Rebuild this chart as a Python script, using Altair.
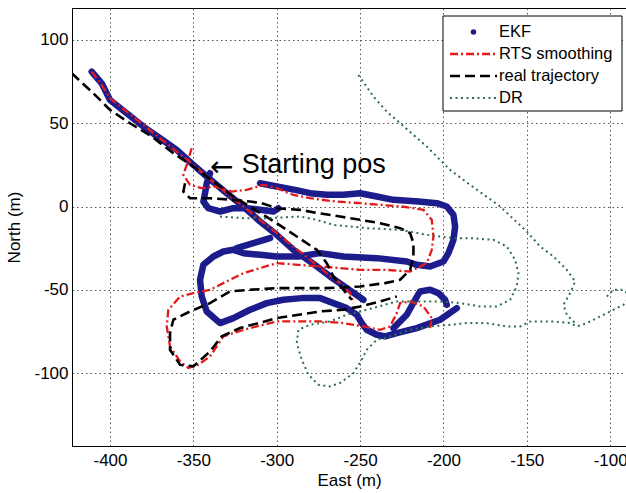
import altair as alt
import pandas as pd

FONT = "Liberation Sans"

# ---------------- data (East, North) in metres ----------------
EKF_DIAGONAL = [(-411, 81), (-405, 74), (-400, 64), (-390, 56), (-380, 48), (-370, 41), (-360, 34),
                (-350, 25), (-342, 18), (-330, 8), (-320, 0), (-310, -9), (-300, -17), (-290, -26),
                (-280, -33), (-268, -42), (-258, -49), (-248, -56)]
EKF_START = [(-340, 20), (-342, 14), (-343, 8), (-344, 3), (-341, -1), (-334, -3), (-326, -1),
             (-318, -1), (-310, -2), (-302, -3), (-299, -1)]
EKF_LANES = [(-310, 14), (-300, 12), (-289, 10), (-280, 8), (-270, 7), (-260, 7), (-250, 8), (-240, 6),
             (-230, 4), (-215, 3), (-204, 2), (-198, 0), (-194, -5), (-193, -12), (-194, -20),
             (-197, -28), (-200, -33), (-208, -36), (-216, -35), (-222, -33), (-240, -31), (-260, -30),
             (-274, -28), (-287, -30), (-300, -30), (-310, -29), (-320, -28), (-326, -26), (-332, -27),
             (-338, -30), (-344, -35), (-346, -44), (-345, -54), (-342, -63), (-334, -70), (-326, -67),
             (-316, -62), (-306, -58), (-296, -56), (-285, -55), (-274, -55), (-266, -58), (-258, -61),
             (-252, -65), (-249, -70), (-246, -74), (-240, -77), (-235, -78), (-228, -76), (-216, -73),
             (-202, -68), (-192, -61)]
EKF_HOOK = [(-230, -73), (-222, -65), (-217, -56), (-214, -51), (-208, -50), (-203, -52), (-199, -56),
            (-198, -59)]
EKF_STUB = [(-324, -25), (-314, -22), (-304, -19)]

RTS_DIAGONAL = [(-411, 81), (-405, 73), (-400, 65), (-390, 57), (-380, 49), (-370, 41), (-360, 33),
                (-350, 25), (-342, 18), (-330, 8), (-320, 0), (-310, -8), (-300, -16), (-290, -24),
                (-280, -32), (-270, -40), (-262, -46), (-256, -52), (-254, -58)]
RTS_LANES = [(-351, 35), (-354, 25), (-356, 19), (-352, 13), (-345, 11), (-337, 12), (-327, 9),
             (-318, 10), (-308, 13), (-300, 11), (-290, 7), (-280, 5), (-265, 3), (-250, 2), (-238, 1),
             (-225, 0), (-212, -2), (-207, -8), (-206, -18), (-207, -26), (-210, -34), (-220, -39),
             (-235, -38), (-250, -38), (-262, -37), (-274, -36), (-287, -35), (-300, -34), (-310, -37),
             (-320, -40), (-330, -45), (-340, -50), (-350, -52), (-358, -54), (-365, -62), (-366, -72),
             (-364, -84), (-358, -93), (-353, -97), (-347, -95), (-340, -90), (-332, -78), (-320, -74),
             (-300, -69), (-287, -69), (-274, -69), (-260, -70), (-248, -72), (-238, -74), (-232, -72),
             (-228, -64), (-226, -58), (-220, -57), (-212, -60), (-207, -67), (-208, -73)]

REAL_DIAGONAL = [(-423, 80), (-410, 68), (-400, 58), (-388, 50), (-375, 42), (-362, 32), (-350, 24),
                 (-338, 15), (-326, 6), (-313, -2), (-300, -10), (-288, -18), (-276, -26), (-270, -34),
                 (-266, -42), (-260, -50), (-255, -56)]
REAL_LANES = [(-355, 14), (-356, 9), (-352, 5), (-340, 5), (-326, 4), (-316, 3), (-309, 2), (-300, -1),
              (-286, -2), (-275, -4), (-262, -6), (-250, -8), (-238, -10), (-226, -13), (-220, -16),
              (-218, -22), (-218, -30), (-220, -38), (-226, -44), (-235, -46), (-250, -48), (-270, -49),
              (-286, -49), (-300, -49), (-316, -50), (-328, -51), (-340, -58), (-352, -63), (-362, -68),
              (-364, -76), (-364, -86), (-358, -95), (-350, -96), (-340, -87), (-333, -78), (-322, -73),
              (-300, -67), (-274, -63), (-260, -62), (-250, -60), (-238, -57), (-228, -54)]

DR_MAIN = [(-334, -6), (-320, -7), (-306, -7), (-286, -6), (-276, -8), (-266, -11), (-246, -13),
           (-226, -14), (-210, -17), (-194, -19), (-184, -19), (-170, -20), (-162, -24), (-157, -32),
           (-155, -40), (-156, -48), (-160, -56), (-168, -60), (-178, -60), (-190, -58), (-202, -57),
           (-214, -57), (-228, -57), (-246, -62), (-258, -65), (-268, -69), (-280, -71), (-287, -74),
           (-288, -82), (-285, -92), (-281, -101), (-275, -107), (-268, -108), (-262, -106),
           (-254, -100), (-249, -92), (-246, -86), (-240, -80), (-232, -78), (-220, -74), (-208, -72),
           (-196, -71), (-186, -70), (-174, -70), (-162, -72), (-154, -72), (-148, -69), (-134, -69),
           (-124, -70), (-120, -72), (-114, -70), (-106, -66), (-100, -63), (-92, -59), (-88, -54),
           (-92, -50), (-98, -50), (-102, -54)]
DR_DIAGONAL = [(-251, 79), (-242, 66), (-234, 57), (-226, 50), (-218, 43), (-210, 36), (-196, 22),
               (-184, 13), (-166, 0), (-150, -15), (-142, -24), (-134, -30), (-126, -38), (-121, -45),
               (-124, -52), (-128, -59), (-126, -65), (-120, -71)]

X_TICKS = [-400, -350, -300, -250, -200, -150, -100]
Y_TICKS = [-100, -50, 0, 50, 100]
X_DOMAIN = [-422.8, -90.5]
Y_DOMAIN = [-143.8, 119.2]

LEGEND_LABELS = ["EKF", "RTS smoothing", "real trajectory", "DR"]
ARROW_TEXT = "\u2190"
ARROW_POS = (-340, 18.5)
ANNOT_TEXT = "Starting pos"
ANNOT_POS = (-321, 20)

NAVY = "#1c1c8c"
RED = "#e31a1c"
BLACK = "#000000"
GREEN = "#2e6e50"


def frame(name, segments):
    rows = []
    for s, pts in enumerate(segments):
        for i, (e, n) in enumerate(pts):
            rows.append({"series": name, "seg": f"{name}-{s}", "order": i, "east": e, "north": n})
    return pd.DataFrame(rows)


ekf = frame("EKF", [EKF_DIAGONAL, EKF_START, EKF_LANES, EKF_HOOK, EKF_STUB])
rts = frame("RTS smoothing", [RTS_DIAGONAL, RTS_LANES])
real = frame("real trajectory", [REAL_DIAGONAL, REAL_LANES])
dr = frame("DR", [DR_MAIN, DR_DIAGONAL])

xs = alt.Scale(domain=X_DOMAIN, nice=False, zero=False)
ys = alt.Scale(domain=Y_DOMAIN, nice=False, zero=False)
x_enc = alt.X("east:Q", scale=xs,
              axis=alt.Axis(values=X_TICKS, title="East (m)", labelExpr="'' + datum.value",
                            labelPadding=6, titlePadding=4))
y_enc = alt.Y("north:Q", scale=ys,
              axis=alt.Axis(values=Y_TICKS, title="North (m)", labelExpr="'' + datum.value",
                            labelPadding=4, titlePadding=10))


def traj(df, **style):
    return alt.Chart(df).mark_line(clip=True, **style).encode(
        x=x_enc, y=y_enc, detail="seg:N", order="order:Q")


l_ekf = traj(ekf, color=NAVY, strokeWidth=6.5, strokeCap="round", strokeJoin="round")
l_rts = traj(rts, color=RED, strokeWidth=2.3, strokeDash=[8, 3, 2, 3])
l_real = traj(real, color=BLACK, strokeWidth=2.6, strokeDash=[10, 5])
l_dr = traj(dr, color=GREEN, strokeWidth=2, strokeDash=[2, 3.5])

arrow = alt.Chart(pd.DataFrame({"east": [ARROW_POS[0]], "north": [ARROW_POS[1]],
                                "label": [ARROW_TEXT]})).mark_text(
    align="left", baseline="alphabetic", fontSize=28, font="DejaVu Sans", color="black"
).encode(x=x_enc, y=y_enc, text="label:N")
annot = alt.Chart(pd.DataFrame({"east": [ANNOT_POS[0]], "north": [ANNOT_POS[1]],
                                "label": [ANNOT_TEXT]})).mark_text(
    align="left", baseline="alphabetic", fontSize=27, font=FONT, color="black"
).encode(x=x_enc, y=y_enc, text="label:N")

# ---------------- legend (drawn in plot-area pixels) ----------------
one = pd.DataFrame({"k": [0]})
LEG_ROWS = [24, 46, 68, 90]
SYM_X0, SYM_X1, LAB_X = 378, 425, 427
box = alt.Chart(one).mark_rect(fill="white", stroke="black", strokeWidth=1).encode(
    x=alt.value(371), x2=alt.value(550), y=alt.value(8), y2=alt.value(103))
leg = [box,
       alt.Chart(one).mark_point(filled=True, shape="circle", size=30, color=NAVY, opacity=1).encode(
           x=alt.value((SYM_X0 + SYM_X1) / 2), y=alt.value(LEG_ROWS[0])),
       alt.Chart(one).mark_rule(color=RED, strokeWidth=2.3, strokeDash=[8, 3, 2, 3]).encode(
           x=alt.value(SYM_X0), x2=alt.value(SYM_X1), y=alt.value(LEG_ROWS[1])),
       alt.Chart(one).mark_rule(color=BLACK, strokeWidth=2.6, strokeDash=[10, 5]).encode(
           x=alt.value(SYM_X0), x2=alt.value(SYM_X1), y=alt.value(LEG_ROWS[2])),
       alt.Chart(one).mark_rule(color=GREEN, strokeWidth=2, strokeDash=[2, 3.5]).encode(
           x=alt.value(SYM_X0), x2=alt.value(SYM_X1), y=alt.value(LEG_ROWS[3]))]
for lab, ry in zip(LEGEND_LABELS, LEG_ROWS):
    leg.append(alt.Chart(one).mark_text(align="left", baseline="middle", fontSize=16.5, font=FONT,
                                        color="black").encode(
        x=alt.value(LAB_X), y=alt.value(ry), text=alt.value(lab)))

chart = alt.layer(l_ekf, l_rts, l_real, l_dr, arrow, annot, *leg).properties(
    width=554, height=438,
    padding={"left": 72, "top": 8, "right": 0, "bottom": 47},
    autosize=alt.AutoSizeParams(type="none"),
    background="white",
).configure_view(stroke="black", strokeWidth=1).configure_axis(
    domainColor="black", domainWidth=1, ticks=False, grid=True,
    gridColor="#444444", gridDash=[1.5, 3], gridWidth=1, gridOpacity=0.9,
    labelFont=FONT, labelFontSize=17, labelColor="black", labelFlush=False,
    titleFont=FONT, titleFontSize=17, titleFontWeight="normal", titleColor="black",
)

chart.save("out.html", embed_options={"renderer": "svg", "actions": False})
